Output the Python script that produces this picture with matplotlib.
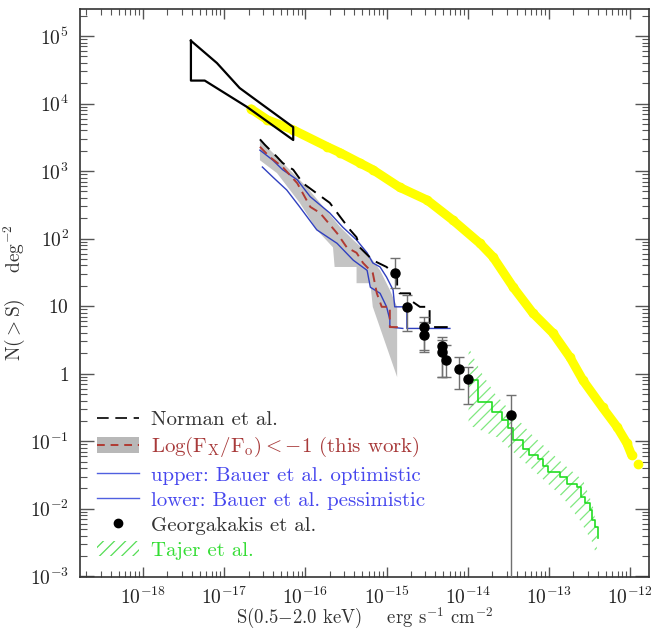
import numpy as np
import matplotlib
matplotlib.use("Agg")
import matplotlib.pyplot as plt
from matplotlib.lines import Line2D
from matplotlib.patches import Patch
from matplotlib.ticker import FixedLocator, FuncFormatter, NullFormatter

plt.rcParams["font.family"] = ["cmr10", "DejaVu Serif"]
plt.rcParams["mathtext.fontset"] = "cm"
plt.rcParams["axes.unicode_minus"] = False
plt.rcParams["hatch.linewidth"] = 0.9

# all values are log10(S) and log10(N>S)

# Norman et al. region (outline)
norman_box_logS = [-17.41, -17.41, -17.24, -16.72, -16.15, -16.15, -16.64, -16.81, -17.09, -17.41]
norman_box_logN = [4.93, 4.34, 4.34, 3.95, 3.46, 3.65, 4.08, 4.23, 4.60, 4.93]

# yellow curve
yellow_logS = [-16.67, -16.47, -16.15, -15.73, -15.57, -15.33, -15.17, -14.84, -14.50,
               -14.18, -13.85, -13.69, -13.44, -13.20, -12.95, -12.74, -12.58, -12.34,
               -12.16, -12.04, -11.98]
yellow_logN = [3.92, 3.76, 3.61, 3.36, 3.27, 3.12, 3.02, 2.76, 2.57,
               2.27, 1.93, 1.73, 1.28, 0.90, 0.60, 0.24, -0.10, -0.50,
               -0.79, -1.03, -1.21]
yellow_last_logS = -11.90
yellow_last_logN = -1.33

# Norman et al. counts
norman_logS = [-16.56, -16.50, -16.35, -16.28, -16.15, -16.03, -15.86, -15.70, -15.57,
               -15.45, -15.37, -15.33, -15.17, -15.00, -14.87, -14.87, -14.84, -14.71,
               -14.71, -14.59, -14.47, -14.47, -14.22]
norman_logN = [3.47, 3.39, 3.21, 3.12, 3.02, 2.82, 2.67, 2.53, 2.32,
               2.13, 2.02, 1.87, 1.68, 1.58, 1.43, 1.28, 1.19, 1.19,
               1.09, 0.99, 0.99, 0.69, 0.69]

# this work, Log(Fx/Fo) < -1
work_logS = [-16.56, -16.44, -16.28, -16.10, -15.94, -15.82, -15.61, -15.49, -15.37,
             -15.29, -15.17, -15.12, -15.06, -14.96, -14.96, -14.80]
work_logN = [3.36, 3.21, 3.06, 2.82, 2.47, 2.38, 2.08, 1.87, 1.79,
             1.64, 1.49, 1.19, 0.99, 0.99, 0.69, 0.69]

# shaded uncertainty of this work (upper edge then lower edge back)
band_logS = [-16.56, -16.40, -15.98, -15.57, -15.41, -15.24, -15.08, -14.96, -14.87, -14.87,
             -15.17, -15.20, -15.37, -15.37, -15.64, -15.66, -15.86, -16.07, -16.35, -16.56]
band_logN = [3.46, 3.27, 2.76, 2.17, 1.98, 1.79, 1.53, 1.24, 0.99, -0.05,
             0.99, 1.34, 1.34, 1.58, 1.58, 1.87, 2.13, 2.53, 2.97, 3.16]

# Bauer et al. optimistic (upper) and pessimistic (lower)
bauer_up_logS = [-16.56, -16.40, -16.28, -16.10, -15.94, -15.70, -15.54, -15.37, -15.24,
                 -15.17, -15.08, -15.00, -14.92, -14.90, -14.75, -14.75, -14.22]
bauer_up_logN = [3.31, 3.16, 3.02, 2.87, 2.62, 2.38, 2.17, 1.98, 1.79,
                 1.64, 1.58, 1.43, 1.24, 0.99, 0.99, 0.67, 0.67]
bauer_lo_logS = [-16.53, -16.40, -16.23, -16.07, -15.86, -15.61, -15.45, -15.41, -15.24,
                 -15.20, -15.08, -15.00, -14.96, -14.96, -14.80]
bauer_lo_logN = [3.06, 2.91, 2.72, 2.47, 2.13, 1.93, 1.73, 1.68, 1.53,
                 1.28, 1.19, 0.99, 0.80, 0.69, 0.67]

# Georgakakis et al.
geo_S = [1.27e-15, 1.78e-15, 2.89e-15, 2.89e-15, 4.81e-15, 4.81e-15, 5.40e-15, 7.80e-15, 1.00e-14, 3.40e-14]
geo_N = [30.8, 9.66, 4.89, 3.72, 2.55, 2.08, 1.58, 1.17, 0.83, 0.243]
geo_hi = [51.4, 14.6, 6.87, 5.79, 3.48, 3.13, 2.64, 1.75, 1.25, 0.48]
geo_lo = [18.5, 4.27, 2.23, 2.08, 0.89, 0.89, 0.89, 0.59, 0.35, 1e-4]

# Tajer et al.
tajer_logS = [-13.98, -13.87, -13.70, -13.58, -13.50, -13.44, -13.32, -13.25, -13.13, -13.07,
              -13.01, -12.87, -12.78, -12.66, -12.60, -12.56, -12.50, -12.47, -12.43, -12.39]
tajer_logN = [-0.10, -0.42, -0.57, -0.69, -0.81, -0.98, -1.11, -1.21, -1.26, -1.36,
              -1.46, -1.53, -1.63, -1.68, -1.83, -1.92, -2.02, -2.17, -2.27, -2.44]
tajer_band_logS = [-13.99, -13.85, -13.67, -13.23, -12.83, -12.58, -12.46, -12.41,
                   -12.41, -12.46, -12.62, -12.83, -13.23, -13.64, -13.99]
tajer_band_logN = [0.39, 0.05, -0.29, -0.88, -1.33, -1.58, -1.95, -2.32,
                   -2.72, -2.51, -2.17, -1.83, -1.39, -0.94, -0.76]

# axis decades
x_decades = [-18, -17, -16, -15, -14, -13, -12]
y_decades = [-3, -2, -1, 0, 1, 2, 3, 4, 5]

p = lambda v: 10.0 ** np.asarray(v)

c_red = "#b03a32"
c_blue = "#3040c0"
c_green = "#22dd22"

fig = plt.figure(figsize=(6.57, 6.33), dpi=100)
ax = fig.add_axes([0.1218, 0.0885, 0.866, 0.8973])
ax.set_xscale("log")
ax.set_yscale("log")

ax.plot(p(yellow_logS), p(yellow_logN), color="#ffff00", lw=6.5, solid_capstyle="round",
        solid_joinstyle="round", marker="o", ms=6, zorder=2)
ax.plot([10 ** yellow_last_logS], [10 ** yellow_last_logN], "o", color="#ffff00", ms=6, zorder=2)

ax.fill(p(band_logS), p(band_logN), color="#c4c4c4", lw=0, zorder=1)
ax.plot(p(bauer_up_logS), p(bauer_up_logN), color=c_blue, lw=1.0, zorder=3)
ax.plot(p(bauer_lo_logS), p(bauer_lo_logN), color=c_blue, lw=1.0, zorder=3)
ax.plot(p(work_logS), p(work_logN), color=c_red, lw=1.4, dashes=(5, 3), zorder=4)
ax.plot(p(norman_logS), p(norman_logN), color="black", lw=1.4, dashes=(7, 4), zorder=4)
ax.plot(p(norman_box_logS), p(norman_box_logN), color="black", lw=1.6, zorder=4)

ax.fill(p(tajer_band_logS), p(tajer_band_logN), facecolor="none", edgecolor="#80e880",
        lw=0, hatch="///", zorder=2)
ax.plot(p(tajer_logS), p(tajer_logN), color=c_green, lw=1.2, drawstyle="steps-post", zorder=3)

geo_N = np.array(geo_N)
yerr = [geo_N - np.array(geo_lo), np.array(geo_hi) - geo_N]
ax.errorbar(geo_S, geo_N, yerr=yerr, fmt="o", color="black", ms=6.5, ecolor="#707070",
            elinewidth=1.0, capsize=3.5, capthick=1.0, zorder=5)

ax.set_xlim(10 ** -18.776, 10 ** -11.768)
ax.set_ylim(10 ** -3.01, 10 ** 5.4)


def xfmt(v, pos):
    return r"$10^{%d}$" % round(np.log10(v))


def yfmt(v, pos):
    e = round(np.log10(v))
    if e == 0:
        return r"$1$"
    if e == 1:
        return r"$10$"
    return r"$10^{%d}$" % e


x_minor = [m * 10.0 ** d for d in range(-19, -11) for m in range(2, 10)]
y_minor = [m * 10.0 ** d for d in range(-3, 6) for m in range(2, 10)]
x_minor = [v for v in x_minor if 10 ** -18.776 < v < 10 ** -11.768]
y_minor = [v for v in y_minor if v < 10 ** 5.4]
ax.xaxis.set_major_locator(FixedLocator(p(x_decades)))
ax.yaxis.set_major_locator(FixedLocator(p(y_decades)))
ax.xaxis.set_minor_locator(FixedLocator(x_minor))
ax.yaxis.set_minor_locator(FixedLocator(y_minor))
ax.xaxis.set_major_formatter(FuncFormatter(xfmt))
ax.yaxis.set_major_formatter(FuncFormatter(yfmt))
ax.xaxis.set_minor_formatter(NullFormatter())
ax.yaxis.set_minor_formatter(NullFormatter())

ax.tick_params(which="both", direction="in", top=True, right=True, color="#555555",
               labelsize=14, labelcolor="#222222")
ax.tick_params(axis="y", which="major", length=10, width=1.0, pad=8)
ax.tick_params(axis="y", which="minor", length=5, width=0.8)
ax.tick_params(axis="x", which="major", length=7, width=1.0, pad=7)
ax.tick_params(axis="x", which="minor", length=4, width=0.8)
for s in ax.spines.values():
    s.set_color("#333333")
    s.set_linewidth(1.2)

ax.set_xlabel(r"S(0.5$-$2.0 keV)    erg s$^{-1}$ cm$^{-2}$", fontsize=13.5, color="#333333")
ax.set_ylabel(r"N($>$S)    deg$^{-2}$", fontsize=14, color="#333333")
ax.xaxis.set_label_coords(0.5, -0.051)
ax.yaxis.set_label_coords(-0.094, 0.5)

handles = [
    Line2D([], [], color="black", lw=1.2, dashes=(7, 4)),
    (Patch(facecolor="#b8b8b8", lw=0), Line2D([], [], color=c_red, lw=1.4, dashes=(4, 3))),
    Line2D([], [], color="#5060e0", lw=1.0),
    Line2D([], [], color="#5060e0", lw=1.0),
    Line2D([], [], color="black", marker="o", ls="none", ms=6),
    Patch(facecolor="none", edgecolor="#55dd55", lw=0, hatch="///"),
]
labels = [
    "Norman et al.",
    r"Log(F$_{\rm X}$/F$_{\rm o}$)$<-$1 (this work)",
    "upper: Bauer et al. optimistic",
    "lower: Bauer et al. pessimistic",
    "Georgakakis et al.",
    "Tajer et al.",
]
leg = ax.legend(handles, labels, loc="lower left", bbox_to_anchor=(0.03, 0.03),
                frameon=False, fontsize=15, handlelength=2.0, handleheight=0.75,
                handletextpad=0.6, labelspacing=0.3, borderpad=0, borderaxespad=0)
text_colors = ["#333333", "#a83a3a", "#4646ee", "#4646ee", "#333333", "#33dd33"]
for t, c in zip(leg.get_texts(), text_colors):
    t.set_color(c)

fig.savefig("out.png", dpi=100)
